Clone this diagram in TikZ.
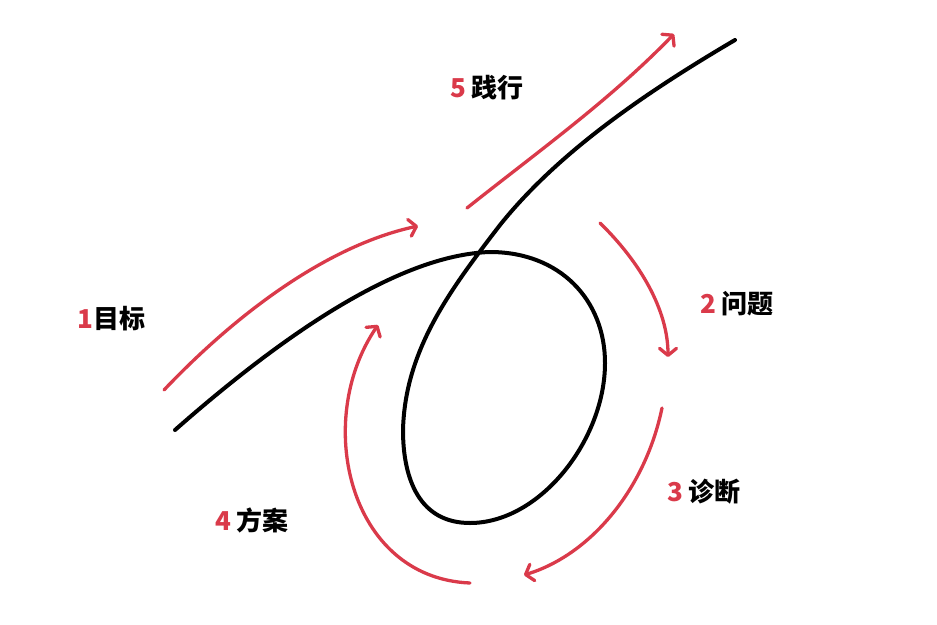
\documentclass[tikz,border=0pt]{standalone}
\usepackage{fontspec}
\newfontfamily\cjk{Noto Sans CJK SC}
\usetikzlibrary{arrows.meta}
\definecolor{accent}{RGB}{218,58,74}
\tikzset{
  blackline/.style={draw=black, line width=4pt, line cap=round},
  redarrow/.style={draw=accent, line width=3.3pt, line cap=round,
    -{Straight Barb[length=7pt,width=17pt,line width=3.3pt,round]}},
  lbl/.style={anchor=west, inner sep=0pt, font=\cjk\fontsize{26}{28}\selectfont\bfseries},
}
\begin{document}
\begin{tikzpicture}[x=1pt,y=-1pt]
\useasboundingbox[fill=white] (0,0) rectangle (937,624);
% key points of the black loop curve
\coordinate (b0) at (175,430);
\coordinate (b1) at (490,252);
\coordinate (b2) at (605,363);
\coordinate (b3) at (470,523);
\coordinate (b4) at (403,430);
\coordinate (b5) at (500,225);
\coordinate (b6) at (735,40);
\draw[blackline] (b0) .. controls (275,342) and (395,255) .. (b1)
  .. controls (560,252) and (605,300) .. (b2)
  .. controls (605,440) and (540,523) .. (b3)
  .. controls (420,523) and (403,480) .. (b4)
  .. controls (405,350) and (450,290) .. (b5)
  .. controls (560,150) and (650,90) .. (b6);
% red arrows
\coordinate (r1a) at (164,390); \coordinate (r1b) at (418,226);
\coordinate (r5a) at (467,208); \coordinate (r5b) at (674,34);
\coordinate (r2a) at (600,223); \coordinate (r2b) at (668,357);
\coordinate (r3a) at (662,408); \coordinate (r3b) at (524,575);
\coordinate (r4a) at (470,583); \coordinate (r4b) at (378,325);
\draw[redarrow] (r1a) .. controls (240,310) and (330,245) .. (r1b);
\draw[redarrow] (r5a) .. controls (540,150) and (610,100) .. (r5b);
\draw[redarrow] (r2a) .. controls (640,262) and (668,310) .. (r2b);
\draw[redarrow] (r3a) .. controls (645,490) and (590,555) .. (r3b);
\draw[redarrow] (r4a) .. controls (348,578) and (313,420) .. (r4b);
% labels
\node[lbl] (l1) at (77,319) {\textcolor{accent}{1}目标};
\node[lbl] (l2) at (700,304) {\textcolor{accent}{2} 问题};
\node[lbl] (l3) at (667,492) {\textcolor{accent}{3} 诊断};
\node[lbl] (l4) at (215,520) {\textcolor{accent}{4} 方案};
\node[lbl] (l5) at (450,88) {\textcolor{accent}{5} 践行};
\end{tikzpicture}
\end{document}
